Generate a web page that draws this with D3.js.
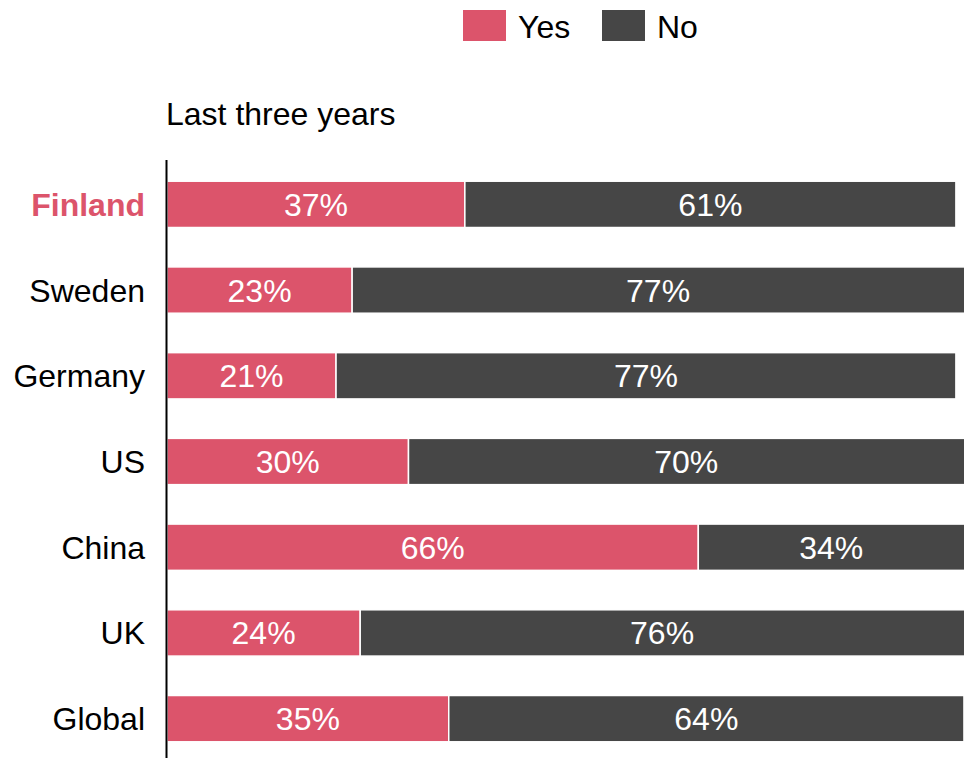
<!DOCTYPE html>
<html>
<head>
<meta charset="utf-8">
<script src="https://cdn.jsdelivr.net/npm/d3@7"></script>
<style>
  body { margin: 0; background: #fff; }
  svg { display: block; font-family: "Liberation Sans", Arial, sans-serif; }
</style>
</head>
<body>
<div id="chart"></div>
<script>
var countries = ["Finland", "Sweden", "Germany", "US", "China", "UK", "Global"];
var yesValues = [37, 23, 21, 30, 66, 24, 35];
var noValues = [61, 77, 77, 70, 34, 76, 64];
var seriesNames = ["Yes", "No"];
var seriesColors = ["#dc546b", "#464646"];
var title = "Last three years";

var width = 964, height = 758;
var axisX = 166.5;
var fontSize = 32;

var svg = d3.select("#chart").append("svg")
	.attr("width", width).attr("height", height);

var x = d3.scaleLinear().domain([0, 100]).range([167, 972]);
var y = d3.scaleBand().domain(countries).range([161.5, 761.5])
	.paddingInner(0.46).paddingOuter(0.23);

var rows = countries.map(function(c, i) {
	return {country: c, Yes: yesValues[i], No: noValues[i]};
});
var stacked = d3.stack().keys(seriesNames)(rows);

// bars
svg.append("g").selectAll("g")
	.data(stacked)
	.join("g")
		.attr("fill", function(d, i) { return seriesColors[i]; })
	.selectAll("rect")
	.data(function(d) { return d; })
	.join("rect")
		.attr("x", function(d) { return x(d[0]); })
		.attr("y", function(d) { return y(d.data.country); })
		.attr("width", function(d) { return x(d[1]) - x(d[0]); })
		.attr("height", y.bandwidth())
		.attr("stroke", "#fff")
		.attr("stroke-width", 1.5);

// value labels
svg.append("g").selectAll("g")
	.data(stacked)
	.join("g")
	.selectAll("text")
	.data(function(d) { return d; })
	.join("text")
		.attr("x", function(d) { return (x(d[0]) + Math.min(x(d[1]), width)) / 2; })
		.attr("y", function(d) { return y(d.data.country) + y.bandwidth() / 2; })
		.attr("dy", "0.36em")
		.attr("text-anchor", "middle")
		.attr("fill", "#fff")
		.attr("font-size", fontSize)
		.text(function(d) { return (d[1] - d[0]) + "%"; });

// country labels
svg.append("g").selectAll("text")
	.data(countries)
	.join("text")
		.attr("x", 145)
		.attr("y", function(d) { return y(d) + y.bandwidth() / 2; })
		.attr("dy", "0.36em")
		.attr("text-anchor", "end")
		.attr("font-size", fontSize)
		.attr("font-weight", function(d) { return d === "Finland" ? "bold" : "normal"; })
		.attr("fill", function(d) { return d === "Finland" ? seriesColors[0] : "#000"; })
		.text(function(d) { return d; });

// axis line
svg.append("line")
	.attr("x1", axisX).attr("x2", axisX)
	.attr("y1", 160).attr("y2", height)
	.attr("stroke", "#000").attr("stroke-width", 2);

// title
svg.append("text")
	.attr("x", 166).attr("y", 125)
	.attr("font-size", fontSize)
	.attr("fill", "#000")
	.text(title);

// legend
var legendX = [463, 602];
var legend = svg.append("g").selectAll("g")
	.data(seriesNames)
	.join("g")
		.attr("transform", function(d, i) { return "translate(" + legendX[i] + ",10)"; });
legend.append("rect")
	.attr("width", 43).attr("height", 31)
	.attr("fill", function(d, i) { return seriesColors[i]; });
legend.append("text")
	.attr("x", 55).attr("y", 16)
	.attr("dy", "0.36em")
	.attr("font-size", fontSize)
	.text(function(d) { return d; });
</script>
</body>
</html>
